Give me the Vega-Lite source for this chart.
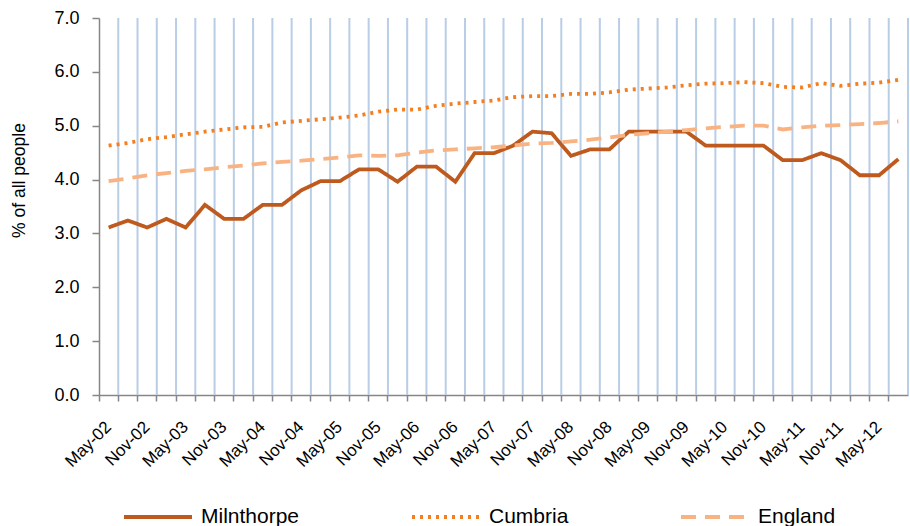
{
  "$schema": "https://vega.github.io/schema/vega-lite/v6.json",
  "width": 809,
  "height": 377,
  "autosize": {"type": "none"},
  "padding": {"left": 99, "top": 18, "right": 2, "bottom": 131},
  "config": {"font": "Liberation Sans", "view": {"stroke": null}},
  "data": {"values": [
    {"period": "May-02", "Milnthorpe": 3.11, "Cumbria": 4.63, "England": 3.97},
    {"period": "Aug-02", "Milnthorpe": 3.24, "Cumbria": 4.68, "England": 4.02},
    {"period": "Nov-02", "Milnthorpe": 3.11, "Cumbria": 4.75, "England": 4.08},
    {"period": "Feb-03", "Milnthorpe": 3.27, "Cumbria": 4.79, "England": 4.12},
    {"period": "May-03", "Milnthorpe": 3.11, "Cumbria": 4.84, "England": 4.16},
    {"period": "Aug-03", "Milnthorpe": 3.53, "Cumbria": 4.89, "England": 4.19},
    {"period": "Nov-03", "Milnthorpe": 3.27, "Cumbria": 4.93, "England": 4.23},
    {"period": "Feb-04", "Milnthorpe": 3.27, "Cumbria": 4.97, "England": 4.26},
    {"period": "May-04", "Milnthorpe": 3.53, "Cumbria": 4.98, "England": 4.30},
    {"period": "Aug-04", "Milnthorpe": 3.53, "Cumbria": 5.06, "England": 4.33},
    {"period": "Nov-04", "Milnthorpe": 3.80, "Cumbria": 5.09, "England": 4.35},
    {"period": "Feb-05", "Milnthorpe": 3.97, "Cumbria": 5.12, "England": 4.38},
    {"period": "May-05", "Milnthorpe": 3.97, "Cumbria": 5.15, "England": 4.41},
    {"period": "Aug-05", "Milnthorpe": 4.19, "Cumbria": 5.19, "England": 4.45},
    {"period": "Nov-05", "Milnthorpe": 4.19, "Cumbria": 5.26, "England": 4.44},
    {"period": "Feb-06", "Milnthorpe": 3.96, "Cumbria": 5.30, "England": 4.45},
    {"period": "May-06", "Milnthorpe": 4.24, "Cumbria": 5.30, "England": 4.50},
    {"period": "Aug-06", "Milnthorpe": 4.24, "Cumbria": 5.37, "England": 4.54},
    {"period": "Nov-06", "Milnthorpe": 3.96, "Cumbria": 5.41, "England": 4.56},
    {"period": "Feb-07", "Milnthorpe": 4.49, "Cumbria": 5.44, "England": 4.58},
    {"period": "May-07", "Milnthorpe": 4.49, "Cumbria": 5.47, "England": 4.60},
    {"period": "Aug-07", "Milnthorpe": 4.63, "Cumbria": 5.53, "England": 4.63},
    {"period": "Nov-07", "Milnthorpe": 4.89, "Cumbria": 5.55, "England": 4.67},
    {"period": "Feb-08", "Milnthorpe": 4.86, "Cumbria": 5.55, "England": 4.68},
    {"period": "May-08", "Milnthorpe": 4.44, "Cumbria": 5.59, "England": 4.71},
    {"period": "Aug-08", "Milnthorpe": 4.56, "Cumbria": 5.59, "England": 4.74},
    {"period": "Nov-08", "Milnthorpe": 4.56, "Cumbria": 5.62, "England": 4.78},
    {"period": "Feb-09", "Milnthorpe": 4.89, "Cumbria": 5.67, "England": 4.83},
    {"period": "May-09", "Milnthorpe": 4.89, "Cumbria": 5.69, "England": 4.86},
    {"period": "Aug-09", "Milnthorpe": 4.89, "Cumbria": 5.71, "England": 4.89},
    {"period": "Nov-09", "Milnthorpe": 4.89, "Cumbria": 5.75, "England": 4.92},
    {"period": "Feb-10", "Milnthorpe": 4.63, "Cumbria": 5.78, "England": 4.95},
    {"period": "May-10", "Milnthorpe": 4.63, "Cumbria": 5.79, "England": 4.98},
    {"period": "Aug-10", "Milnthorpe": 4.63, "Cumbria": 5.81, "England": 5.00},
    {"period": "Nov-10", "Milnthorpe": 4.63, "Cumbria": 5.79, "England": 5.00},
    {"period": "Feb-11", "Milnthorpe": 4.36, "Cumbria": 5.72, "England": 4.93},
    {"period": "May-11", "Milnthorpe": 4.36, "Cumbria": 5.71, "England": 4.97},
    {"period": "Aug-11", "Milnthorpe": 4.49, "Cumbria": 5.79, "England": 5.00},
    {"period": "Nov-11", "Milnthorpe": 4.36, "Cumbria": 5.74, "England": 5.01},
    {"period": "Feb-12", "Milnthorpe": 4.08, "Cumbria": 5.78, "England": 5.03},
    {"period": "May-12", "Milnthorpe": 4.08, "Cumbria": 5.80, "England": 5.05},
    {"period": "Aug-12", "Milnthorpe": 4.38, "Cumbria": 5.85, "England": 5.08}
  ]},
  "resolve": {"axis": {"x": "independent"}},
  "layer": [
    {
      "mark": {"type": "rule", "color": "#B9CDE5", "strokeWidth": 2},
      "encoding": {
        "x": {
          "field": "period", "type": "ordinal", "sort": null, "bandPosition": 1,
          "scale": {"type": "band", "paddingInner": 0, "paddingOuter": 0},
          "axis": {
            "orient": "bottom", "title": null, "bandPosition": 0, "grid": false, "labels": false,
            "domainColor": "#868686", "domainWidth": 1.5, "tickColor": "#868686", "tickWidth": 1.5, "tickSize": 6
          }
        }
      }
    },
    {
      "transform": [{"fold": ["Milnthorpe", "Cumbria", "England"], "as": ["series", "val"]}],
      "mark": {"type": "line", "strokeWidth": 3.8},
      "encoding": {
        "x": {
          "field": "period", "type": "ordinal", "sort": null, "bandPosition": 0.5,
          "axis": {
            "orient": "bottom", "title": null, "grid": false, "ticks": false, "domain": false,
            "labelAngle": -45, "labelAlign": "right", "labelBaseline": "middle", "labelFontSize": 17,
            "labelColor": "#000000", "labelPadding": 29, "labelOverlap": false,
            "labelExpr": "(indexof(datum.value, 'May') == 0 || indexof(datum.value, 'Nov') == 0) ? datum.value : ''"
          }
        },
        "y": {
          "field": "val", "type": "quantitative",
          "scale": {"domain": [0, 7], "nice": false},
          "axis": {
            "title": "% of all people", "values": [0, 1, 2, 3, 4, 5, 6, 7], "format": ".1f", "grid": false,
            "domainColor": "#868686", "domainWidth": 1.5, "tickColor": "#868686", "tickWidth": 1.5, "tickSize": 7,
            "labelPadding": 13, "labelFontSize": 18, "labelColor": "#000000",
            "titleFontSize": 17.5, "titleFontWeight": "normal", "titleColor": "#000000",
            "titleX": -71, "titleY": 162, "titleAngle": -90, "titleAlign": "center", "titleBaseline": "bottom"
          }
        },
        "color": {
          "field": "series", "type": "nominal",
          "scale": {"domain": ["Milnthorpe", "Cumbria", "England"], "range": ["#BE5A1E", "#F47F20", "#F9B382"]},
          "legend": {
            "title": null, "orient": "none", "direction": "horizontal", "legendX": 23, "legendY": 463,
            "symbolType": "stroke", "symbolSize": 4624, "symbolStrokeWidth": 3.8,
            "labelFontSize": 21, "labelColor": "#000000", "labelOffset": 7, "columnPadding": 104
          }
        },
        "strokeDash": {
          "field": "series", "type": "nominal",
          "scale": {"domain": ["Milnthorpe", "Cumbria", "England"], "range": [[1, 0], [3, 5], [15, 9]]},
          "legend": {
            "title": null, "orient": "none", "direction": "horizontal", "legendX": 23, "legendY": 463,
            "symbolType": "stroke", "symbolSize": 4624, "symbolStrokeWidth": 3.8,
            "labelFontSize": 21, "labelColor": "#000000", "labelOffset": 7, "columnPadding": 104
          }
        }
      }
    }
  ]
}
